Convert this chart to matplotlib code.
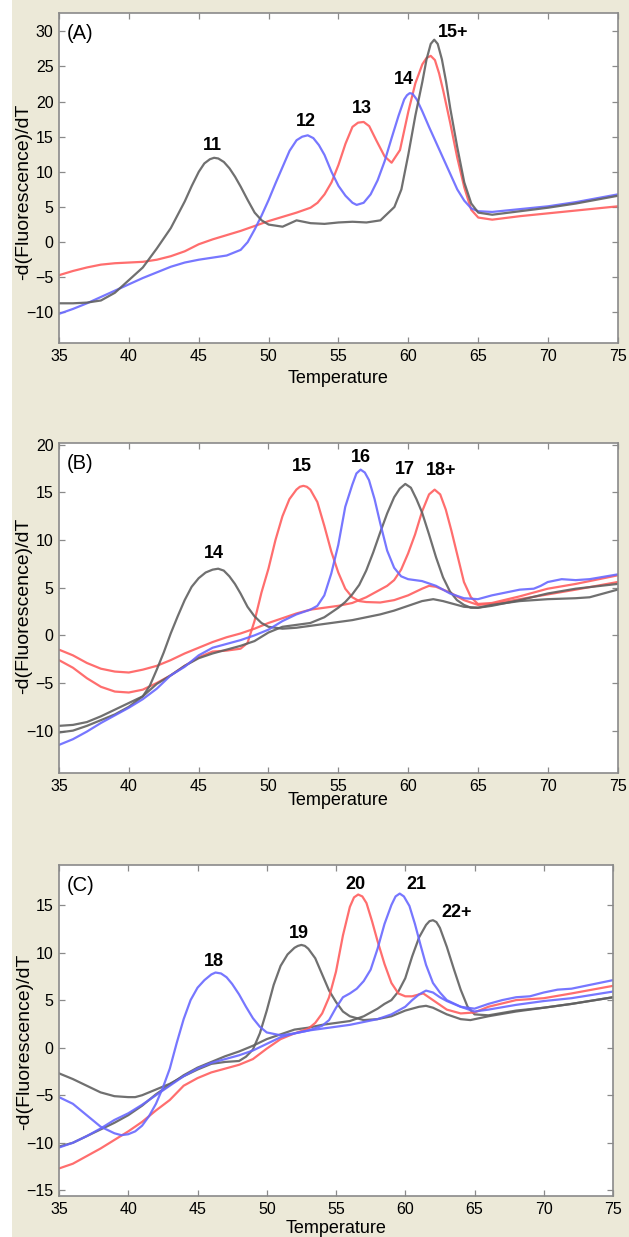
import matplotlib
matplotlib.use("Agg")
import matplotlib.pyplot as plt
from matplotlib.patches import Rectangle

plt.rcParams['font.family'] = ['Liberation Sans', 'DejaVu Sans']

GRAY = '#606060'
RED = '#ff5e5e'
BLUE = '#6868ff'
FRAME = '#8a8a8a'
BEIGE = '#ece9d8'

TEMP_TICKS = [35, 40, 45, 50, 55, 60, 65, 70, 75]

# ---- panel A ----
a_gray_t = [35, 36, 37, 38, 39, 40, 41, 42, 43, 44, 44.5, 45, 45.4, 45.8, 46.1, 46.4, 46.8, 47.2, 47.6,
            48, 48.5, 49, 49.5, 50, 51, 52, 53, 54, 55, 56, 57, 58, 59, 59.5, 60, 60.5, 61, 61.3,
            61.6, 61.85, 62.1, 62.4, 62.7, 63, 63.5, 64, 64.5, 65, 66, 68, 70, 72, 75]
a_gray_v = [-8.7, -8.7, -8.6, -8.3, -7.2, -5.4, -3.6, -0.9, 2.0, 5.8, 8.0, 10.0, 11.2, 11.8, 12.0, 11.9,
            11.4, 10.5, 9.3, 7.9, 6.0, 4.2, 3.1, 2.5, 2.2, 3.1, 2.7, 2.6, 2.8, 2.9, 2.8, 3.1, 5.0, 7.5,
            12.5, 18.0, 22.8, 26.0, 28.2, 28.8, 28.2, 26.0, 22.8, 19.0, 13.5, 8.5, 5.5, 4.2, 3.9, 4.4,
            4.9, 5.5, 6.6]

a_red_t = [35, 36, 37, 38, 39, 40, 41, 42, 43, 44, 45, 46, 47, 48, 49, 50, 51, 52, 53, 53.5, 54, 54.5,
           55, 55.5, 56, 56.4, 56.8, 57.2, 57.7, 58.3, 58.8, 59.4, 60, 60.5, 61, 61.3, 61.6, 61.9,
           62.2, 62.5, 63, 63.5, 64, 64.5, 65, 66, 68, 70, 72, 75]
a_red_v = [-4.7, -4.1, -3.6, -3.2, -3.0, -2.9, -2.8, -2.5, -2.0, -1.3, -0.3, 0.4, 1.0, 1.6, 2.3, 3.0,
           3.6, 4.2, 4.9, 5.6, 6.8, 8.5, 11.0, 14.0, 16.4, 17.0, 17.1, 16.5, 14.5, 12.2, 11.3, 13.1,
           18.6, 22.6, 25.3, 26.2, 26.5, 25.9, 24.0, 21.5, 16.9, 12.0, 7.8, 4.6, 3.5, 3.2, 3.7, 4.1,
           4.5, 5.1]

a_blue_t = [35, 36, 37, 38, 39, 40, 41, 42, 43, 44, 45, 46, 47, 48, 48.5, 49, 49.5, 50, 50.5, 51, 51.5,
            52, 52.4, 52.8, 53.2, 53.6, 54, 54.5, 55, 55.5, 56, 56.3, 56.8, 57.3, 57.8, 58.3, 58.8,
            59.3, 59.7, 59.9, 60.1, 60.3, 60.6, 61, 61.5, 62, 62.5, 63, 63.5, 64, 64.5, 65, 66, 68,
            70, 72, 75]
a_blue_v = [-10.2, -9.5, -8.7, -7.8, -6.9, -6.0, -5.1, -4.3, -3.5, -2.9, -2.5, -2.2, -1.9, -1.1, 0.0,
            1.8, 3.8, 6.0, 8.4, 10.7, 13.0, 14.5, 15.0, 15.2, 14.8, 13.8, 12.4, 10.0, 8.0, 6.6, 5.6,
            5.3, 5.6, 6.8, 8.8, 11.5, 14.8, 18.0, 20.3, 20.9, 21.2, 21.1, 20.3, 18.6, 16.3, 14.1,
            11.9, 9.7, 7.5, 5.9, 4.8, 4.4, 4.3, 4.7, 5.1, 5.7, 6.8]

a_labels = ['11', '12', '13', '14', '15+']
a_label_t = [46.0, 52.7, 56.7, 59.7, 63.2]
a_label_v = [13.8, 17.2, 19.0, 23.1, 29.8]

# ---- panel B ----
b_gray14_t = [35, 36, 37, 38, 39, 40, 41, 41.5, 42, 42.5, 43, 43.5, 44, 44.5, 45, 45.5, 46, 46.4, 46.8,
              47.2, 47.6, 48, 48.5, 49, 49.5, 50, 51, 52, 53, 54, 55, 56, 57, 58, 59, 60, 61, 61.8,
              62.5, 63, 64, 65, 66, 68, 70, 72, 73, 75]
b_gray14_v = [-9.5, -9.4, -9.1, -8.5, -7.8, -7.1, -6.4, -5.3, -3.6, -1.8, 0.2, 2.0, 3.7, 5.1, 6.0, 6.6,
              6.9, 7.0, 6.8, 6.2, 5.4, 4.4, 3.0, 2.0, 1.3, 0.9, 0.7, 0.8, 1.0, 1.2, 1.4, 1.6, 1.9, 2.2,
              2.6, 3.1, 3.6, 3.8, 3.6, 3.4, 3.0, 2.9, 3.2, 3.6, 3.8, 3.9, 4.0, 4.8]

b_red15_t = [35, 36, 37, 38, 39, 40, 41, 42, 43, 44, 45, 46, 47, 48, 48.5, 49, 49.5, 50, 50.5, 51, 51.5,
             52, 52.25, 52.5, 52.75, 53, 53.5, 54, 54.5, 55, 55.5, 56, 56.5, 57, 58, 59, 60, 61, 61.5,
             62, 63, 64, 65, 66, 68, 70, 72, 75]
b_red15_v = [-2.6, -3.4, -4.5, -5.4, -5.9, -6.0, -5.7, -5.0, -4.2, -3.2, -2.3, -1.7, -1.6, -1.4, -0.8,
             1.5, 4.5, 7.0, 10.0, 12.5, 14.3, 15.3, 15.6, 15.7, 15.6, 15.3, 14.0, 11.5, 8.8, 6.6, 4.9,
             4.0, 3.6, 3.5, 3.45, 3.7, 4.2, 4.9, 5.2, 5.1, 4.5, 3.7, 3.2, 3.3, 3.8, 4.3, 4.8, 5.6]

b_blue16_t = [35, 36, 37, 38, 39, 40, 41, 42, 43, 44, 45, 46, 47, 48, 49, 50, 51, 52, 53, 53.5, 54, 54.5,
              55, 55.5, 56, 56.3, 56.6, 56.9, 57.2, 57.6, 58, 58.5, 59, 59.5, 60, 61, 62, 63, 64, 65,
              66, 67, 68, 69, 69.5, 70, 71, 72, 73, 75]
b_blue16_v = [-11.5, -10.9, -10.1, -9.2, -8.4, -7.6, -6.7, -5.6, -4.2, -3.3, -2.1, -1.3, -0.9, -0.5,
              0.0, 0.6, 1.5, 2.2, 2.7, 3.1, 4.2, 6.5, 9.5, 13.5, 15.8, 17.0, 17.4, 17.1, 16.3, 14.3,
              11.8, 8.9, 7.1, 6.2, 5.9, 5.7, 5.2, 4.4, 3.9, 3.8, 4.2, 4.5, 4.8, 4.9, 5.2, 5.6, 5.9,
              5.8, 5.9, 6.4]

b_gray17_t = [35, 36, 37, 38, 39, 40, 41, 42, 43, 44, 45, 46, 47, 48, 49, 50, 51, 52, 53, 54, 55, 55.5,
              56, 56.5, 57, 57.5, 58, 58.5, 59, 59.4, 59.8, 60.2, 60.6, 61, 61.5, 62, 62.5, 63, 63.5,
              64, 64.5, 65, 66, 68, 70, 72, 75]
b_gray17_v = [-10.2, -10.0, -9.5, -8.9, -8.3, -7.5, -6.4, -5.1, -4.2, -3.2, -2.4, -1.9, -1.5, -1.1,
              -0.6, 0.3, 0.9, 1.1, 1.3, 1.9, 2.9, 3.5, 4.3, 5.3, 6.8, 8.7, 10.8, 12.8, 14.5, 15.4,
              15.9, 15.5, 14.3, 12.9, 10.6, 8.2, 6.1, 4.6, 3.7, 3.2, 2.9, 2.9, 3.1, 3.7, 4.4, 4.9, 5.4]

b_red18_t = [35, 36, 37, 38, 39, 40, 41, 42, 43, 44, 45, 46, 47, 48, 49, 50, 51, 52, 53, 54, 55, 56, 57,
             58, 58.5, 59, 59.5, 60, 60.5, 61, 61.5, 61.9, 62.3, 62.7, 63.1, 63.5, 64, 64.5, 65, 66,
             68, 70, 72, 75]
b_red18_v = [-1.5, -2.1, -2.9, -3.5, -3.8, -3.9, -3.6, -3.2, -2.6, -1.9, -1.3, -0.7, -0.2, 0.2, 0.7,
             1.3, 1.8, 2.3, 2.7, 2.9, 3.1, 3.4, 4.0, 4.8, 5.2, 5.8, 6.9, 8.6, 10.6, 13.0, 14.8, 15.3,
             14.8, 13.2, 11.0, 8.6, 5.6, 4.0, 3.3, 3.4, 4.1, 4.9, 5.4, 6.3]

b_labels = ['14', '15', '16', '17', '18+']
b_label_t = [46.1, 52.4, 56.6, 59.8, 62.4]
b_label_v = [8.6, 17.7, 18.7, 17.4, 17.3]

# ---- panel C ----
c_blue18_t = [35, 36, 37, 38, 39, 39.5, 40, 40.5, 41, 41.5, 42, 42.5, 43, 43.5, 44, 44.5, 45, 45.5, 46,
              46.3, 46.7, 47.1, 47.5, 48, 48.5, 49, 49.5, 50, 51, 52, 53, 54, 55, 56, 57, 58, 59, 60,
              60.5, 61, 61.5, 62, 62.5, 63, 64, 65, 66, 67, 68, 69, 70, 71, 72, 73, 75]
c_blue18_v = [-5.2, -5.9, -7.1, -8.3, -9.0, -9.2, -9.1, -8.8, -8.2, -7.2, -5.9, -4.2, -2.2, 0.5, 3.0,
              5.0, 6.3, 7.1, 7.7, 7.9, 7.8, 7.4, 6.7, 5.6, 4.3, 3.1, 2.2, 1.6, 1.3, 1.5, 1.8, 2.0,
              2.2, 2.4, 2.7, 3.0, 3.5, 4.3, 5.0, 5.6, 6.0, 5.8, 5.3, 4.9, 4.3, 4.1, 4.6, 5.0, 5.3,
              5.4, 5.8, 6.1, 6.2, 6.5, 7.1]

c_gray19_t = [35, 36, 37, 38, 39, 40, 40.5, 41, 42, 43, 44, 45, 46, 47, 48, 48.5, 49, 49.5, 50, 50.5,
              51, 51.5, 52, 52.25, 52.5, 52.75, 53, 53.5, 54, 54.5, 55, 55.5, 56, 57, 58, 59, 60, 61,
              61.5, 62, 63, 64, 64.7, 66, 68, 70, 72, 75]
c_gray19_v = [-2.7, -3.3, -4.0, -4.7, -5.1, -5.2, -5.2, -5.0, -4.4, -3.8, -3.0, -2.3, -1.7, -1.5, -1.4,
              -0.95, -0.2, 1.5, 3.9, 6.6, 8.6, 9.8, 10.5, 10.7, 10.8, 10.7, 10.4, 9.4, 7.7, 6.0, 4.8,
              3.8, 3.3, 2.9, 3.0, 3.3, 3.9, 4.3, 4.4, 4.2, 3.5, 3.0, 2.9, 3.3, 3.8, 4.2, 4.6, 5.3]

c_red20_t = [35, 36, 37, 38, 39, 40, 41, 42, 43, 44, 45, 46, 47, 48, 49, 50, 51, 52, 53, 53.5, 54, 54.5,
             55, 55.5, 56, 56.3, 56.6, 56.9, 57.2, 57.6, 58, 58.5, 59, 59.5, 60, 60.5, 61, 61.3, 62,
             63, 64, 65, 66, 68, 70, 72, 75]
c_red20_v = [-12.7, -12.2, -11.4, -10.6, -9.7, -8.8, -7.8, -6.6, -5.5, -4.0, -3.2, -2.6, -2.2, -1.8,
             -1.2, -0.1, 0.9, 1.5, 2.0, 2.6, 3.6, 5.3, 8.0, 11.8, 14.8, 15.8, 16.1, 15.9, 15.2, 13.3,
             11.2, 8.8, 6.8, 5.7, 5.4, 5.4, 5.6, 5.7, 5.0, 4.0, 3.6, 3.7, 4.3, 5.0, 5.2, 5.7, 6.5]

c_blue21_t = [35, 36, 37, 38, 39, 40, 41, 42, 43, 44, 45, 46, 47, 48, 49, 50, 51, 52, 53, 54, 54.5, 55,
              55.5, 56, 56.5, 57, 57.5, 58, 58.5, 59, 59.3, 59.6, 59.9, 60.3, 60.7, 61.1, 61.5, 62,
              62.5, 63, 64, 65, 66, 68, 70, 72, 75]
c_blue21_v = [-10.5, -10.0, -9.3, -8.5, -7.6, -6.9, -6.0, -5.0, -4.0, -3.0, -2.2, -1.6, -1.2, -0.8,
              -0.3, 0.4, 1.1, 1.5, 1.8, 2.3, 2.9, 4.2, 5.3, 5.7, 6.2, 7.0, 8.2, 10.4, 13.0, 15.0,
              15.9, 16.2, 15.9, 14.9, 13.0, 10.8, 8.7, 6.8, 5.8, 5.0, 4.3, 3.8, 4.0, 4.5, 4.9, 5.2, 5.9]

c_gray22_t = [35, 36, 37, 38, 39, 40, 41, 42, 43, 44, 45, 46, 47, 48, 49, 50, 51, 52, 53, 54, 55, 56, 57,
              58, 58.5, 59, 59.5, 60, 60.5, 61, 61.5, 61.75, 62, 62.25, 62.5, 63, 63.5, 64, 64.5, 65,
              66, 68, 70, 72, 75]
c_gray22_v = [-10.4, -10.0, -9.3, -8.6, -7.9, -7.1, -6.1, -4.9, -3.9, -2.9, -2.1, -1.5, -0.9, -0.4,
              0.2, 0.9, 1.4, 1.9, 2.1, 2.4, 2.6, 2.8, 3.3, 4.1, 4.6, 5.0, 5.9, 7.3, 9.6, 11.6, 12.9,
              13.3, 13.4, 13.2, 12.6, 10.6, 8.3, 6.1, 4.3, 3.5, 3.4, 3.9, 4.2, 4.6, 5.3]

c_labels = ['18', '19', '20', '21', '22+']
c_label_t = [46.2, 52.3, 56.4, 60.8, 63.7]
c_label_v = [9.1, 12.0, 17.2, 17.2, 14.2]

panels = [
    dict(tag='(A)', tag_v=29.7, rect=[0.0938, 0.7227, 0.8887, 0.2668], ylim=(-14.35, 32.6),
         yticks=[-10, -5, 0, 5, 10, 15, 20, 25, 30],
         curves=[(a_red_t, a_red_v, RED), (a_blue_t, a_blue_v, BLUE), (a_gray_t, a_gray_v, GRAY)],
         labels=(a_labels, a_label_t, a_label_v), ylab_y=0.458, xlab_y=-0.081),
    dict(tag='(B)', tag_v=18.0, rect=[0.0938, 0.3751, 0.8880, 0.2668], ylim=(-14.45, 20.2),
         yticks=[-10, -5, 0, 5, 10, 15, 20],
         curves=[(b_red18_t, b_red18_v, RED), (b_red15_t, b_red15_v, RED),
                 (b_gray17_t, b_gray17_v, GRAY), (b_gray14_t, b_gray14_v, GRAY),
                 (b_blue16_t, b_blue16_v, BLUE)],
         labels=(b_labels, b_label_t, b_label_v), ylab_y=0.506, xlab_y=-0.059),
    dict(tag='(C)', tag_v=17.1, rect=[0.0938, 0.0331, 0.8808, 0.2676], ylim=(-15.6, 19.2),
         yticks=[-15, -10, -5, 0, 5, 10, 15],
         curves=[(c_gray22_t, c_gray22_v, GRAY), (c_gray19_t, c_gray19_v, GRAY),
                 (c_red20_t, c_red20_v, RED), (c_blue21_t, c_blue21_v, BLUE),
                 (c_blue18_t, c_blue18_v, BLUE)],
         labels=(c_labels, c_label_t, c_label_v), ylab_y=0.465, xlab_y=-0.071),
]


def draw_panel(fig, p):
    ax = fig.add_axes(p['rect'])
    ax.set_facecolor('white')
    for t, v, col in p['curves']:
        ax.plot(t, v, color=col, lw=1.6, alpha=0.9, solid_joinstyle='round',
                solid_capstyle='round')
    for txt, t, v in zip(*p['labels']):
        ax.text(t, v, txt, ha='center', va='center', fontsize=13, fontweight='bold')
    ax.text(35.55, p['tag_v'], p['tag'], ha='left', va='center', fontsize=14.5)

    ax.set_xlim(35, 75)
    ax.set_ylim(*p['ylim'])
    ax.set_xticks(TEMP_TICKS)
    ax.set_yticks(p['yticks'])
    ax.tick_params(direction='in', top=True, right=True, length=4, width=0.9,
                   color=FRAME, labelsize=11.5, pad=4)
    for s in ax.spines.values():
        s.set_color(FRAME)
        s.set_linewidth(1.2)

    ax.set_xlabel('Temperature', fontsize=13, va='top')
    ax.xaxis.set_label_coords(0.5, p['xlab_y'])
    ax.set_ylabel('-d(Fluorescence)/dT', fontsize=14, va='center', ha='center')
    ax.yaxis.set_label_coords(-0.0626, p['ylab_y'])
    return ax


fig = plt.figure(figsize=(6.29, 12.37), dpi=100, facecolor=BEIGE)
fig.patches.append(Rectangle((0, 0), 12 / 629, 1, transform=fig.transFigure,
                             facecolor='white', edgecolor='none', zorder=0))

for p in panels:
    draw_panel(fig, p)

fig.savefig('out.png', dpi=100, facecolor=BEIGE)
